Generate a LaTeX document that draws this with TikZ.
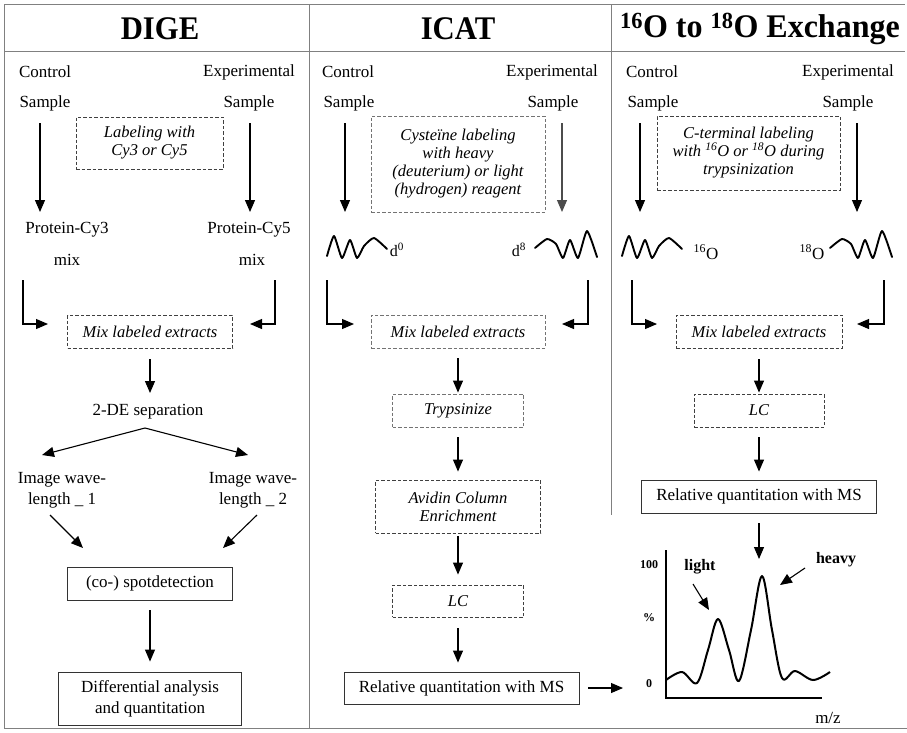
\documentclass[tikz,border=0pt]{standalone}
\usepackage{fontspec}
\setmainfont{Liberation Serif}
\usetikzlibrary{arrows.meta,calc}
\begin{document}
\begin{tikzpicture}[x=1pt,y=-1pt,
 frame/.style={draw=black!50, line width=1pt},
 arr/.style={-{Triangle[length=12pt,width=10pt]}, line width=1.1pt},
 txt/.style={inner sep=0pt, font=\fontsize{17}{21}\selectfont, align=center},
 dbox/.style={draw=black!75, dash pattern=on 3.5pt off 2pt, line width=0.9pt, inner sep=0pt, font=\itshape\fontsize{16.5}{18}\selectfont, align=center},
 sbox/.style={draw=black!80, line width=0.9pt, inner sep=0pt, font=\fontsize{17}{21}\selectfont, align=center},
 head/.style={font=\bfseries\fontsize{33}{36}\selectfont, inner sep=0pt},
 wave/.style={line width=1.9pt, line join=round, line cap=round},
 small/.style={inner sep=0pt, font=\bfseries\fontsize{12}{14}\selectfont},
 lbl/.style={inner sep=0pt, font=\bfseries\fontsize{16}{18}\selectfont},
]
\useasboundingbox (0,0) rectangle (907,732);
% frame
\draw[frame] (4,728) -- (4,4) -- (905,4);
\draw[frame] (4,51) -- (905,51);
\draw[frame] (4,728) -- (907,728);
\draw[frame] (309,4) -- (309,728);
\draw[frame] (611,4) -- (611,515);
% headers
\node[head] (h1) at (160,29) {\scalebox{0.93}[1]{DIGE}};
\node[head] (h2) at (458,29) {\scalebox{0.93}[1]{ICAT}};
\node[head] (h3) at (760,29) {\scalebox{0.97}[1]{\textsuperscript{16}O to \textsuperscript{18}O Exchange}};

% ===== DIGE =====
\node[txt] (c1) at (45,72) {Control};
\node[txt] (e1) at (249,72) {Experimental};
\node[txt] (s1a) at (45,103) {Sample};
\node[txt] (s1b) at (249,103) {Sample};
\node[dbox, minimum width=147pt, minimum height=52pt] (lab1) at (149.5,143) {Labeling with\\Cy3 or Cy5};
\draw[arr] (40,123) -- (40,212);
\draw[arr] (250,123) -- (250,212);
\node[txt] (p1a) at (67,230) {Protein-Cy3};
\node[txt] (p1b) at (249,230) {Protein-Cy5};
\node[txt] (m1a) at (67,260) {mix};
\node[txt] (m1b) at (252,260) {mix};
\node[dbox, minimum width=165pt, minimum height=33pt] (mix1) at (150,331.5) {Mix labeled extracts};
\draw[arr] (23,280) -- (23,324) -- (48,324);
\draw[arr] (275,280) -- (275,324) -- (250,324);
\node[txt] (sep1) at (148,412) {2-DE separation};
\draw[arr, shorten <=11pt] (mix1.south) -- (150,393);
\coordinate (apex) at (145,428);
\draw[arr] (apex) -- (42,455);
\draw[arr] (apex) -- (248,455);
\node[txt] (im1a) at (62,490) {Image wave-\\length \_ 1};
\node[txt] (im1b) at (253,490) {Image wave-\\length \_ 2};
\node[sbox, minimum width=165pt, minimum height=33pt] (spot1) at (150,583.5) {(co-) spotdetection};
\draw[arr] (50,515) -- (83,548);
\draw[arr] (257,515) -- (223,548);
\node[sbox, minimum width=183pt, minimum height=53pt] (diff1) at (150,698.5) {Differential analysis\\and quantitation};
\draw[arr, shorten <=10pt, shorten >=10pt] (spot1.south) -- (diff1.north);

% ===== ICAT =====
\node[txt] (c2) at (348,72) {Control};
\node[txt] (e2) at (552,72) {Experimental};
\node[txt] (s2a) at (349,103) {Sample};
\node[txt] (s2b) at (553,103) {Sample};
\node[dbox, draw=black!55, minimum width=174pt, minimum height=96pt] (lab2) at (458,164) {Cysteïne labeling\\with heavy\\(deuterium) or light\\(hydrogen) reagent};
\draw[arr] (345,123) -- (345,212);
\draw[arr, draw=black!70, fill=black!70] (562,123) -- (562,212);
\draw[wave] plot[smooth, tension=0.35] coordinates {(327,256) (334,236) (342,258) (350,240) (357,258) (364,246) (374,238) (387,249)};
\node[inner sep=0pt, font=\fontsize{16}{18}\selectfont] (d0) at (397,250) {d\textsuperscript{0}};
\node[inner sep=0pt, font=\fontsize{16}{18}\selectfont] (d8) at (519,250) {d\textsuperscript{8}};
\draw[wave] plot[smooth, tension=0.35] coordinates {(535,248) (547,239) (556,244) (563,258) (570,240) (578,258) (587,231) (597,257)};
\node[dbox, draw=black!55, minimum width=174pt, minimum height=33pt] (mix2) at (458,331.5) {Mix labeled extracts};
\draw[arr] (327,280) -- (327,324) -- (354,324);
\draw[arr] (588,280) -- (588,324) -- (562,324);
\node[dbox, draw=black!55, minimum width=131pt, minimum height=33pt] (tryp) at (458,410.5) {Trypsinize};
\node[dbox, minimum width=165pt, minimum height=53pt] (avid) at (458,506.5) {Avidin Column\\Enrichment};
\node[dbox, minimum width=131pt, minimum height=32pt] (lc2) at (458,601) {LC};
\node[sbox, minimum width=235pt, minimum height=32pt] (rel2) at (461.5,688) {Relative quantitation with MS};
\draw[arr, shorten <=10pt, shorten >=1pt] (mix2.south) -- (tryp.north);
\draw[arr, shorten <=10pt, shorten >=8pt] (tryp.south) -- (avid.north);
\draw[arr, shorten <=3pt, shorten >=10pt] (avid.south) -- (lc2.north);
\draw[arr, shorten <=11pt, shorten >=9pt] (lc2.south) -- (lc2.south |- rel2.north);
\coordinate (chartin) at (623,688);
\draw[arr, shorten <=9pt] (rel2.east) -- (chartin);

% ===== 16O/18O =====
\node[txt] (c3) at (652,72) {Control};
\node[txt] (e3) at (848,72) {Experimental};
\node[txt] (s3a) at (653,103) {Sample};
\node[txt] (s3b) at (848,103) {Sample};
\node[dbox, minimum width=183pt, minimum height=74pt] (lab3) at (748.5,153) {C-terminal labeling\\with \textsuperscript{16}O or \textsuperscript{18}O during\\trypsinization};
\draw[arr] (640,123) -- (640,212);
\draw[arr] (857,123) -- (857,212);
\draw[wave] plot[smooth, tension=0.35] coordinates {(622,256) (629,236) (637,258) (645,240) (652,258) (659,246) (669,238) (682,249)};
\node[inner sep=0pt, font=\fontsize{17}{18}\selectfont] (o16) at (706,252) {\textsuperscript{16}O};
\node[inner sep=0pt, font=\fontsize{17}{18}\selectfont] (o18) at (812,252) {\textsuperscript{18}O};
\draw[wave] plot[smooth, tension=0.35] coordinates {(830,248) (842,239) (851,244) (858,258) (865,240) (873,258) (882,231) (892,257)};
\node[dbox, minimum width=166pt, minimum height=33pt] (mix3) at (759,331.5) {Mix labeled extracts};
\draw[arr] (632,280) -- (632,324) -- (657,324);
\draw[arr] (884,280) -- (884,324) -- (857,324);
\node[dbox, minimum width=130pt, minimum height=33pt] (lc3) at (759,410.5) {LC};
\node[sbox, minimum width=235pt, minimum height=33pt] (rel3) at (759,496.5) {Relative quantitation with MS};
\draw[arr, shorten <=11pt, shorten >=1pt] (mix3.south) -- (lc3.north);
\draw[arr, shorten <=10pt, shorten >=8pt] (lc3.south) -- (rel3.north);

% chart
\coordinate (ax0) at (666,698);
\draw[line width=1.4pt] (666,550) -- (ax0) -- (822,698);
\draw[arr, shorten <=10pt] (rel3.south) -- (759,559);
\node[small] (t100) at (649,565) {100};
\node[small] (tpc) at (649,618) {\%};
\node[small] (t0) at (649,684) {0};
\node[inner sep=0pt, font=\fontsize{17}{18}\selectfont] (mz) at (828,718) {m/z};
\node[lbl] (light) at (700,567) {light};
\node[lbl] (heavy) at (836,560) {heavy};
\draw[line width=2pt, line join=round] plot[smooth, tension=0.55] coordinates {(666,680) (682,672) (697,683) (708,650) (718,619) (729,650) (739,681) (751,630) (762,576) (772,630) (782,678) (795,671) (813,680) (830,672)};
\draw[arr] (693,584) -- (709,610);
\draw[arr] (805,568) -- (780,585);
\end{tikzpicture}
\end{document}
